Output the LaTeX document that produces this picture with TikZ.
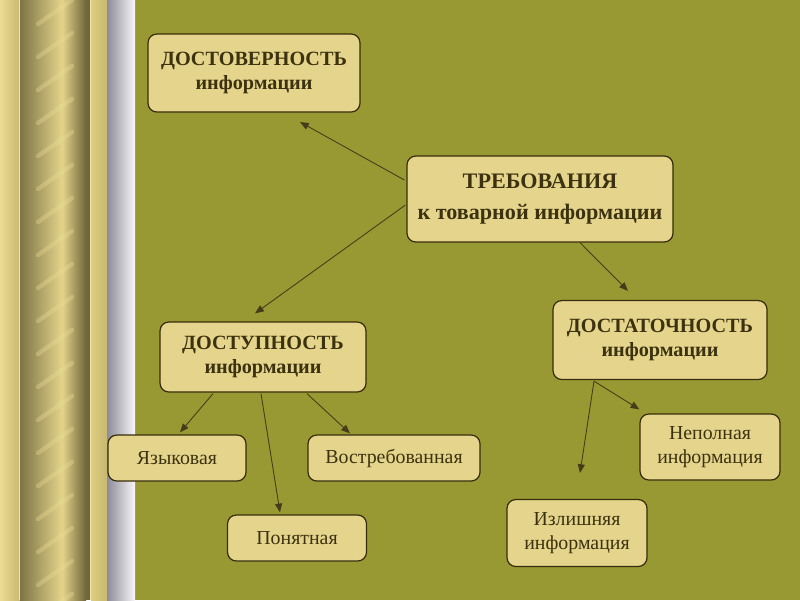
\documentclass[tikz,border=0pt]{standalone}
\usepackage{fontspec}
\setmainfont{Liberation Serif}
\usepackage{tikz}
\usetikzlibrary{positioning}
\usetikzlibrary{arrows.meta}

\definecolor{olive}{RGB}{153,153,51}
\definecolor{boxfill}{RGB}{229,213,140}
\definecolor{boxline}{RGB}{55,45,12}
\definecolor{textcol}{RGB}{60,50,15}
\definecolor{arrowcol}{RGB}{70,60,25}
\definecolor{goldlight}{RGB}{236,220,145}
\definecolor{goldmid}{RGB}{200,184,112}
\definecolor{goldpale}{RGB}{222,206,130}
\definecolor{goldshine}{RGB}{228,212,138}
\definecolor{golddark}{RGB}{125,116,70}
\definecolor{golddeep}{RGB}{112,102,58}
\definecolor{goldline}{RGB}{240,230,176}
\definecolor{goldhigh}{RGB}{236,222,150}
\definecolor{greyside}{RGB}{140,140,152}
\definecolor{whiteside}{RGB}{250,246,250}

\tikzset{
  box/.style={draw=boxline, fill=boxfill, line width=0.7pt, rounded corners=5pt,
    align=center, text=textcol, inner sep=0pt},
  headbox/.style={box, font=\fontsize{11.5}{13.6}\selectfont\bfseries},
  leafbox/.style={box, font=\fontsize{11.3}{13.6}\selectfont},
  arr/.style={-{Triangle[length=5pt,width=4pt]}, draw=arrowcol, line width=0.5pt}
}

\begin{document}
\begin{tikzpicture}[x=0.02cm, y=-0.02cm]
  \useasboundingbox (0,0) rectangle (800,600);
  % background %
  \fill[olive] (0,0) rectangle (800,600);
  \shade[left color=goldlight, right color=goldmid] (0,0) rectangle (20,600);
  \shade[left color=golddark, right color=goldshine] (20,0) rectangle (62,600);
  \shade[left color=goldshine, right color=golddeep] (62,0) rectangle (86,600);
  \fill[golddeep] (86,0) rectangle (91,600);
  \shade[left color=goldpale, right color=goldmid] (91,0) rectangle (107,600);
  \draw[goldline, line width=0.6pt] (19.5,0) -- (19.5,600);
  \draw[goldline, line width=0.6pt] (90.5,0) -- (90.5,600);
  \begin{scope}
    \clip (34,0) rectangle (76,600);
    \foreach \y in {0,33,...,660}
      \draw[goldhigh, opacity=0.35, line width=2.5pt, line cap=round] (38,\y+24) -- (72,\y);
  \end{scope}
  \shade[left color=greyside, right color=whiteside] (107,0) rectangle (135,600);
  % nodes %
  \node[headbox, minimum width=5.32cm, minimum height=1.72cm,
    font=\fontsize{12.6}{17.6}\selectfont\bfseries] (treb) at (540,199)
    {ТРЕБОВАНИЯ\\к товарной информации};
  \node[headbox, minimum width=4.24cm, minimum height=1.56cm] (dost) at (254,73)
    {ДОСТОВЕРНОСТЬ\\информации};
  \node[headbox, minimum width=4.12cm, minimum height=1.40cm] (dostup) at (263,357)
    {ДОСТУПНОСТЬ\\информации};
  \node[headbox, minimum width=4.28cm, minimum height=1.58cm] (dostat) at (660,340)
    {ДОСТАТОЧНОСТЬ\\информации};
  \node[leafbox, minimum width=2.76cm, minimum height=0.92cm] (yazyk) at (177,458) {Языковая};
  \node[leafbox, minimum width=3.44cm, minimum height=0.92cm] (vostreb) at (394,458) {Востребованная};
  \node[leafbox, minimum width=2.78cm, minimum height=0.92cm] (ponyat) at (297,538) {Понятная};
  \node[leafbox, minimum width=2.80cm, minimum height=1.32cm] (nepoln) at (710,447) {Неполная\\информация};
  \node[leafbox, minimum width=2.80cm, minimum height=1.34cm] (izlish) at (577,533) {Излишняя\\информация};
  \coordinate (dosttip) at (300,122);
  \coordinate (izlishtip) at (580,473);
  % edges %
  \draw[arr] ([shift={(-2,-19)}]treb.west) -- (dosttip);
  \draw[arr] ([shift={(-1,6)}]treb.west) -- ([shift={(-8,-8)}]dostup.north);
  \draw[arr] ([shift={(40,0)}]treb.south) -- ([shift={(-32,-9)}]dostat.north);
  \draw[arr] ([shift={(-50,1)}]dostup.south) -- ([shift={(3,-2)}]yazyk.north);
  \draw[arr] ([shift={(-2,1)}]dostup.south) -- ([shift={(-17,-2)}]ponyat.north);
  \draw[arr] ([shift={(44,1)}]dostup.south) -- ([shift={(-44,-1)}]vostreb.north);
  \draw[arr] ([shift={(-66,1)}]dostat.south) -- (izlishtip);
  \draw[arr] ([shift={(-66,1)}]dostat.south) -- ([shift={(0,-4)}]nepoln.north west);
\end{tikzpicture}
\end{document}
